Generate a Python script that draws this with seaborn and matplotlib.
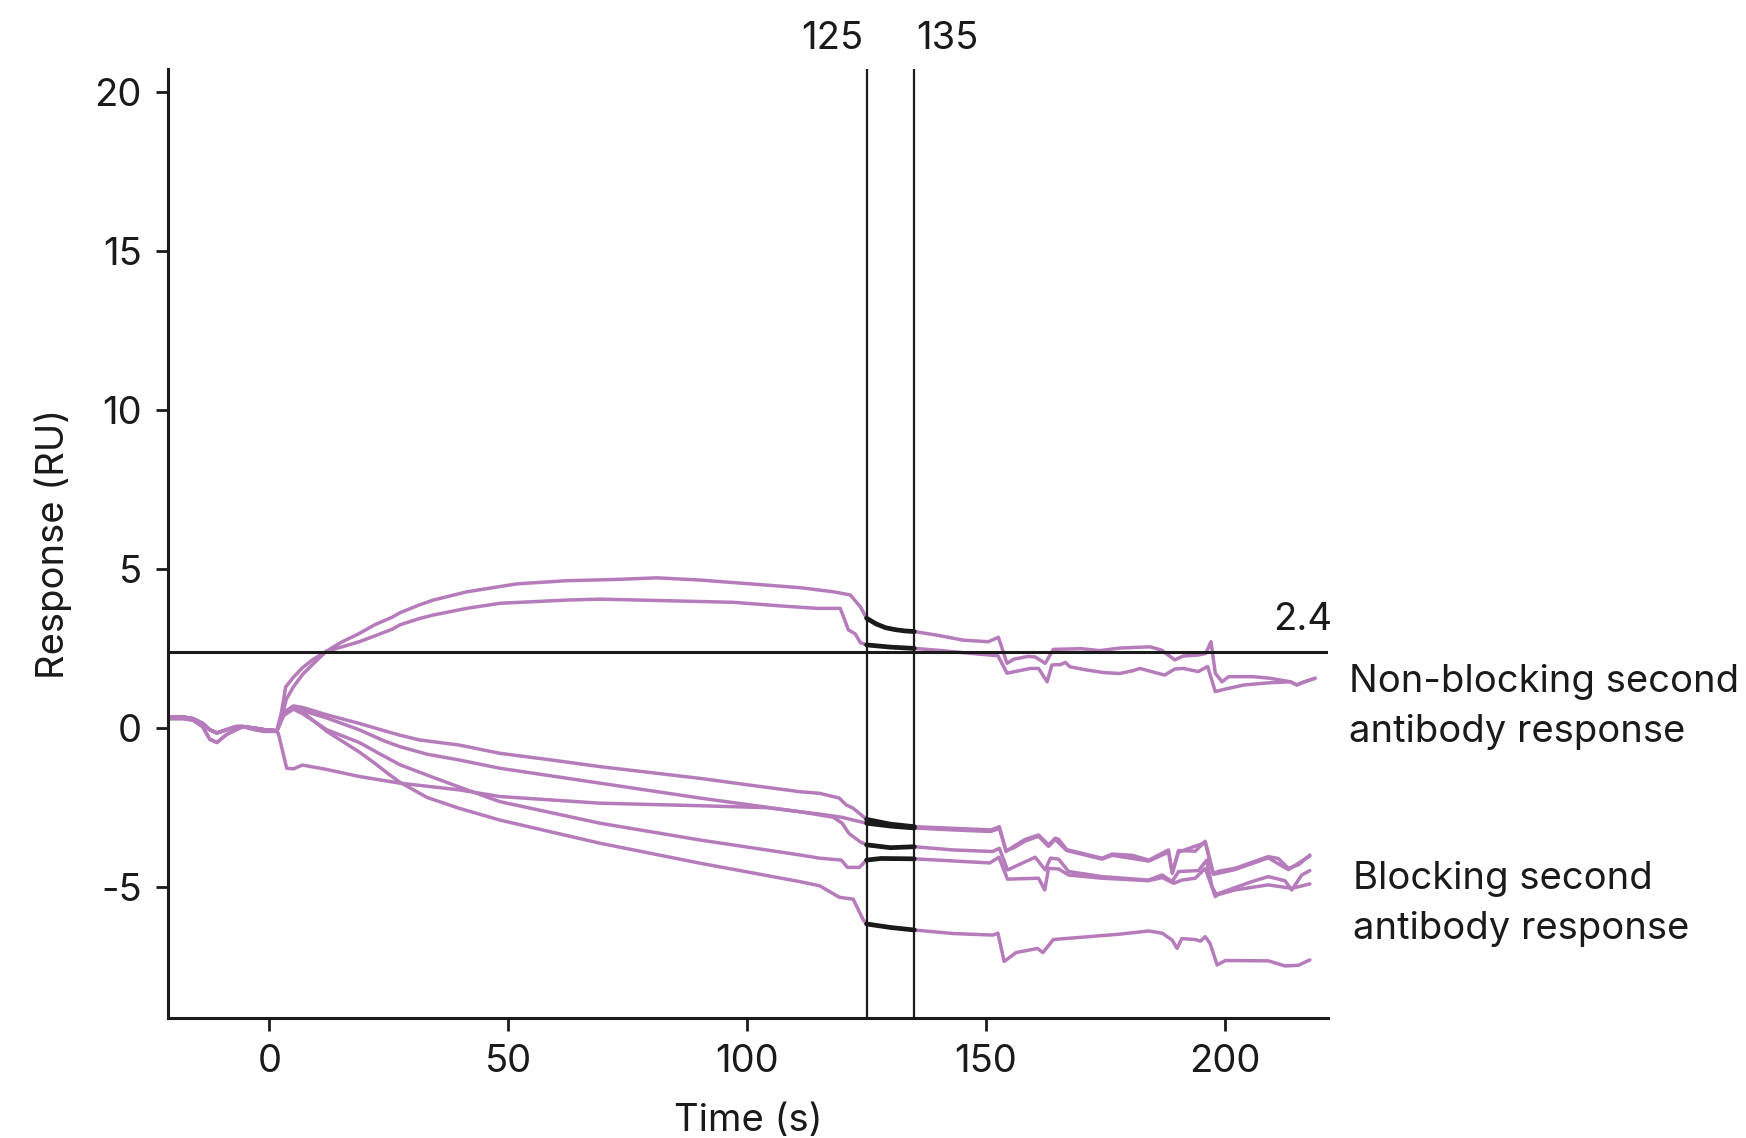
import numpy as np
import pandas as pd
import matplotlib
matplotlib.use("Agg")
import matplotlib.pyplot as plt
import seaborn as sns

# ---------------- data ----------------
t_pre = [-21, -18, -16, -14, -12.5, -11, -9, -7, -5.5, -3, -1, 0.5]
r_pre_flat = [0.35, 0.35, 0.3, 0.15, -0.05, -0.15, -0.05, 0.05, 0.05, 0.0, -0.05, -0.05]
r_pre_dip = [0.3, 0.3, 0.25, 0.05, -0.35, -0.45, -0.2, -0.05, 0.05, -0.05, -0.1, -0.1]

# Non-blocking curves
t_A = [1.5, 2.5, 3.4, 5, 6.9, 9, 11.8, 15, 18.8, 22, 25.8, 27.3, 31.4, 34.3, 41.3, 51.8, 62.2, 72.7,
       81.1, 90.2, 100.7, 111.1, 118.1, 121.6, 123.7, 125, 127, 129, 131, 133, 135, 140, 145.2, 150.5,
       152.6, 154.4, 155.8, 158.9, 160.3, 162.4, 164.1, 170, 173.8, 178, 184.3, 186.7, 189.5, 191.3,
       194.4, 196, 197.1, 198, 199.4, 200.8, 206, 209.5, 213.7, 215.1, 216.5, 218.9]
r_A = [-0.1, 0.5, 1.3, 1.6, 1.9, 2.15, 2.41, 2.7, 2.98, 3.25, 3.5, 3.63, 3.88, 4.03, 4.29, 4.54, 4.64, 4.68,
       4.73, 4.66, 4.54, 4.42, 4.29, 4.19, 3.82, 3.46, 3.28, 3.16, 3.10, 3.06, 3.04, 2.92, 2.77, 2.72,
       2.86, 2.04, 2.17, 2.26, 2.24, 2.04, 2.48, 2.5, 2.44, 2.52, 2.56, 2.46, 2.15, 2.27,
       2.30, 2.35, 2.72, 1.73, 1.46, 1.62, 1.62, 1.57, 1.46, 1.36, 1.45, 1.57]

t_B = [1.5, 2.5, 3.5, 5, 7, 9, 11.8, 15, 18.8, 22, 25.8, 27.3, 31.4, 34.3, 41.3, 48.3, 62.2, 69.2, 83.2,
       97.1, 107.6, 114.6, 119.5, 121.2, 122.6, 123.7, 125, 130, 135, 140, 145, 150.8, 152.5, 154.4,
       159.3, 161, 162.8, 163.8, 165.6, 166.6, 167.6, 171.1, 174.6, 178, 180.8, 182.2, 187.4, 189.5,
       191.3, 194.4, 196.4, 198, 199.8, 204, 209.5, 213.7, 215.1, 216.5, 218.9]
r_B = [-0.1, 0.3, 0.9, 1.3, 1.7, 2.0, 2.41, 2.55, 2.72, 2.9, 3.12, 3.25, 3.45, 3.56, 3.77, 3.93, 4.03, 4.06, 4.01,
       3.96, 3.84, 3.77, 3.77, 3.09, 2.97, 2.69, 2.62, 2.55, 2.51, 2.45, 2.38, 2.30, 2.28, 1.73,
       1.88, 1.88, 1.46, 1.99, 2.0, 2.07, 1.93, 1.83, 1.75, 1.72, 1.81, 1.88, 1.67, 1.86,
       1.88, 1.78, 1.94, 1.15, 1.22, 1.36, 1.43, 1.46, 1.36, 1.45, 1.57]

# Blocking curves
t_C1 = [1.5, 3, 5, 7, 12, 18.8, 24, 27.3, 31.4, 39.7, 48.2, 59, 69.2, 80, 90.2, 100, 111.1, 115.2, 119.3,
        120.7, 122.2, 124.3, 125, 130, 135, 143.1, 151.1, 152.8, 154.2, 156, 158.2, 161, 163.1, 164.5,
        165.2, 166.9, 174.3, 176.4, 180.6, 184.1, 188.2, 189, 190.3, 193.8, 195.9, 197.6, 198.7, 202.1,
        209.1, 211.2, 213.3, 215.4, 217.8]
r_C1 = [-0.1, 0.5, 0.7, 0.65, 0.42, 0.15, -0.08, -0.22, -0.37, -0.53, -0.79, -1.0, -1.21, -1.4, -1.58, -1.78, -2.0, -2.05, -2.2,
        -2.41, -2.52, -2.78, -2.87, -3.02, -3.10, -3.15, -3.2, -3.1, -3.88, -3.7, -3.5, -3.36, -3.67, -3.46,
        -3.5, -3.82, -4.09, -3.96, -4.0, -4.15, -3.83, -4.57, -3.85, -3.87, -3.56, -4.57, -4.5, -4.41,
        -4.04, -4.1, -4.41, -4.3, -3.99]

t_C2 = [1.5, 1.85, 3.6, 5, 6.9, 12, 18.8, 27.3, 39.7, 48.2, 69.2, 90.2, 104, 115, 119.7, 125, 130, 135,
        143, 151, 152.8, 154.2, 156, 158.2, 161, 163.1, 164.5, 166.9, 174.3, 176.4, 184.1, 188.2, 189,
        190.3, 195.9, 197.6, 202.1, 209.1, 213.3, 217.8]
r_C2 = [-0.1, -0.16, -1.26, -1.28, -1.16, -1.3, -1.52, -1.73, -1.94, -2.15, -2.36, -2.44, -2.5, -2.7, -2.8, -2.99, -3.08, -3.14,
        -3.2, -3.25, -3.15, -3.85, -3.75, -3.55, -3.4, -3.72, -3.5, -3.85, -4.12, -4.0, -4.18, -3.9, -4.55,
        -3.9, -3.6, -4.6, -4.45, -4.08, -4.45, -4.02]

t_C3 = [1.5, 3, 5, 7, 12, 18.8, 24, 27.3, 33, 39.7, 48.2, 69.2, 90.2, 111.1, 118, 119.9, 121.3, 123.6, 125, 130,
        135, 143, 151.4, 152.8, 154.5, 160.3, 162.4, 163.5, 165.2, 167.3, 174.3, 184, 186.9, 189, 190.3,
        194.5, 196.2, 197.3, 198.3, 202.1, 209.1, 214, 217.8]
r_C3 = [-0.1, 0.45, 0.65, 0.55, 0.32, -0.05, -0.4, -0.58, -0.82, -1.0, -1.26, -1.73, -2.2, -2.63, -2.8, -2.99, -3.31, -3.57, -3.67, -3.76,
        -3.73, -3.83, -3.88, -3.78, -4.46, -4.06, -4.46, -4.09, -4.12, -4.51, -4.67, -4.78, -4.62, -4.83, -4.51,
        -4.48, -4.15, -4.99, -5.25, -5.09, -4.93, -5.04, -4.9]

t_C4 = [1.5, 3, 5, 7, 12, 18.8, 23, 27.3, 34.3, 39.7, 48.2, 69.2, 90.2, 111.1, 115.2, 119.7, 121, 123.5, 125,
        128, 135, 150.8, 152.7, 154.5, 161, 162.3, 163.1, 165.2, 167.3, 174.3, 181.9, 184, 186.9, 189.3,
        191, 193.8, 195.9, 197.3, 198, 198.7, 205.6, 209.1, 212.6, 214, 216.1, 217.8]
r_C4 = [-0.1, 0.4, 0.6, 0.45, -0.05, -0.45, -0.8, -1.15, -1.55, -1.85, -2.31, -2.99, -3.52, -3.99, -4.09, -4.15, -4.38, -4.38, -4.15,
        -4.10, -4.11, -4.24, -4.06, -4.75, -4.72, -5.09, -4.41, -4.43, -4.62, -4.72, -4.78, -4.8, -4.7, -4.88,
        -4.78, -4.72, -4.41, -4.99, -5.3, -5.2, -4.83, -4.67, -4.8, -5.09, -4.62, -4.48]

t_C5 = [1.5, 3, 5, 7, 12, 18.8, 22, 25, 27.3, 33, 39.7, 48.2, 69.2, 90.2, 111.1, 115.2, 119.3, 122.2, 124.3,
        125, 130, 135, 143.1, 151.4, 152.5, 153.8, 156.3, 160.8, 161.9, 164.1, 178, 184.1, 186.9, 189,
        190, 191, 193.8, 194.9, 195.9, 196.9, 198.4, 200.1, 209.1, 212.6, 215.4, 217.8]
r_C5 = [-0.1, 0.5, 0.65, 0.5, -0.1, -0.75, -1.1, -1.45, -1.7, -2.18, -2.52, -2.89, -3.62, -4.25, -4.83, -4.96, -5.32, -5.38, -6.03,
        -6.16, -6.27, -6.35, -6.46, -6.51, -6.45, -7.34, -7.06, -6.93, -7.06, -6.65, -6.48, -6.38, -6.45, -6.67,
        -6.93, -6.62, -6.65, -6.7, -6.56, -6.77, -7.45, -7.31, -7.32, -7.48, -7.46, -7.29]

curves = {
    "A": (t_A, r_A, r_pre_dip),
    "B": (t_B, r_B, r_pre_flat),
    "C1": (t_C1, r_C1, r_pre_flat),
    "C2": (t_C2, r_C2, r_pre_flat),
    "C3": (t_C3, r_C3, r_pre_flat),
    "C4": (t_C4, r_C4, r_pre_flat),
    "C5": (t_C5, r_C5, r_pre_dip),
}

report_times = [125, 135]
report_level = 2.4
x_ticks = [0, 50, 100, 150, 200]
y_ticks = [-5, 0, 5, 10, 15, 20]

rows = []
for name, (tt, rr, pre) in curves.items():
    for t, r in zip(t_pre + tt, pre + rr):
        rows.append({"curve": name, "time": t, "resp": r})
df = pd.DataFrame(rows)
seg = df[(df["time"] >= 125) & (df["time"] <= 135)]

# ---------------- style ----------------
sns.set_theme(style="ticks")
plt.rcParams["font.family"] = ["Inter", "DejaVu Sans"]
plt.rcParams["axes.unicode_minus"] = False
FS = 27.5
TXT = "#1a1a1a"
PINK = "#b67bbb"

fig = plt.figure(figsize=(17.46, 11.38), dpi=100)
ax = fig.add_axes([0.0962, 0.1054, 0.6644, 0.834])

sns.lineplot(data=df, x="time", y="resp", units="curve", estimator=None,
             color=PINK, lw=2.5, ax=ax, sort=False)
sns.lineplot(data=seg, x="time", y="resp", units="curve", estimator=None,
             color="#1a1a1a", lw=3.4, ax=ax, sort=False)

ax.set_xlim(-21.25, 221.6)
ax.set_ylim(-9.12, 20.74)

for xv in report_times:
    ax.axvline(xv, color="#1a1a1a", lw=1.6, zorder=5)
ax.axhline(report_level, color="#1a1a1a", lw=2.2, zorder=5)

ax.text(125 - 0.6, 1.013, "125", transform=ax.get_xaxis_transform(), ha="right", va="bottom",
        fontsize=FS, color=TXT)
ax.text(135 + 0.3, 1.013, "135", transform=ax.get_xaxis_transform(), ha="left", va="bottom",
        fontsize=FS, color=TXT)
ax.text(222.4, report_level + 0.45, "2.4", ha="right", va="bottom", fontsize=FS, color=TXT,
        clip_on=False)

ax.text(225.9, 0.67, "Non-blocking second\nantibody response", ha="left", va="center",
        fontsize=FS, color=TXT, linespacing=1.5, clip_on=False)
ax.text(226.8, -5.53, "Blocking second\nantibody response", ha="left", va="center",
        fontsize=FS, color=TXT, linespacing=1.5, clip_on=False)

ax.set_xticks(x_ticks)
ax.set_yticks(y_ticks)
ax.set_xticklabels([str(v) for v in x_ticks])
ax.set_yticklabels([str(v) for v in y_ticks])
ax.tick_params(axis="both", labelsize=FS, colors=TXT, length=9, width=2, pad=10)
ax.set_xlabel("Time (s)", fontsize=FS, color=TXT, labelpad=16)
ax.set_ylabel("Response (RU)", fontsize=FS, color=TXT, labelpad=16)

for s in ["top", "right"]:
    ax.spines[s].set_visible(False)
for s in ["left", "bottom"]:
    ax.spines[s].set_linewidth(2.2)
    ax.spines[s].set_color("#1a1a1a")

fig.savefig("out.png", dpi=100)
